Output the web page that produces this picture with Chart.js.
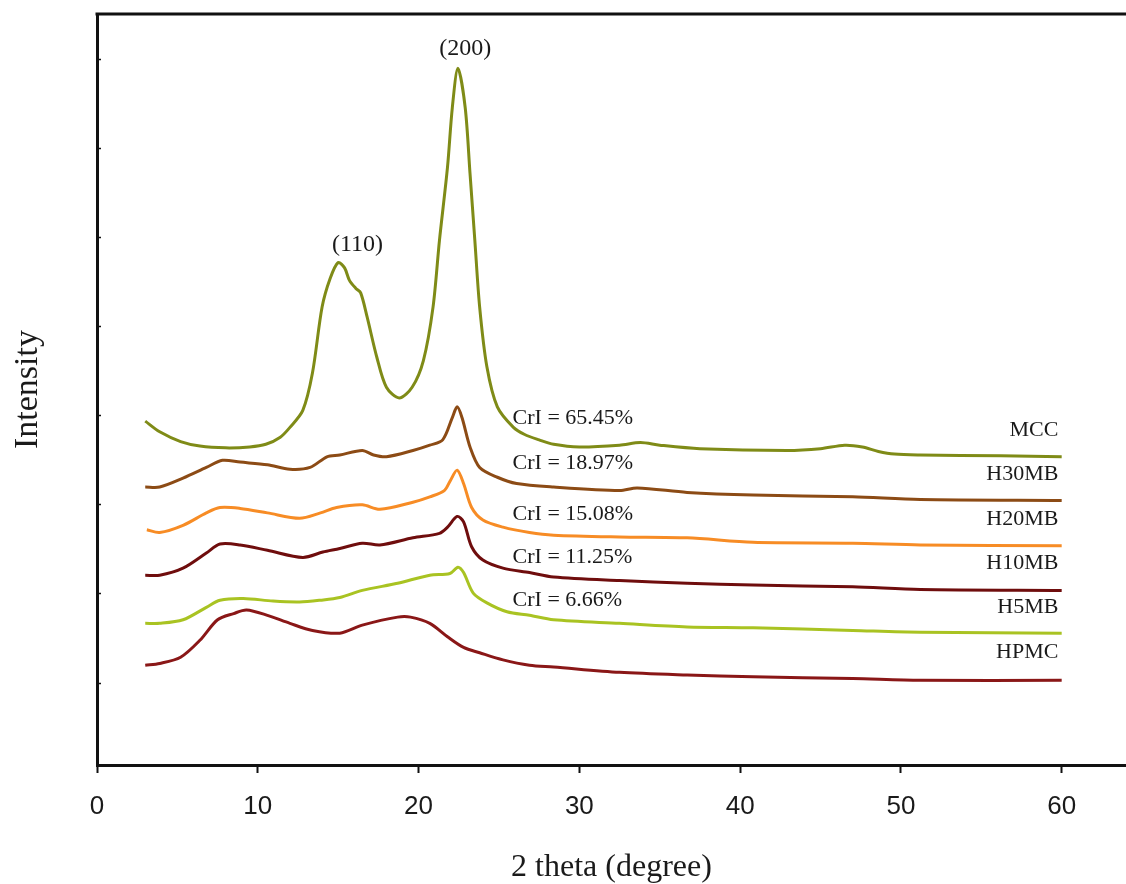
<!DOCTYPE html>
<html>
<head>
<meta charset="utf-8">
<script src="https://cdn.jsdelivr.net/npm/chart.js@4.4.1/dist/chart.umd.min.js"></script>
<style>
  html, body { margin: 0; padding: 0; background: #ffffff; }
  #c { display: block; }
</style>
</head>
<body>
<canvas id="c" width="1126" height="884"></canvas>
<script>
// ---------- data (2 theta in degrees, intensity in arbitrary units) ----------
const mccX   = [3.0, 3.9, 5.2, 6.4, 8.0, 9.5, 10.5, 11.4, 12.0, 12.8, 13.4, 14.0, 14.5, 15.0, 15.4, 15.7, 16.1, 16.4, 16.8, 17.4, 18.0, 18.8, 19.6, 20.3, 20.9, 21.3, 21.8, 22.1, 22.45, 22.9, 23.2, 23.5, 23.8, 24.25, 24.9, 25.9, 26.6, 27.5, 28.4, 30.0, 32.5, 33.8, 35.0, 37.5, 42.9, 45.0, 46.5, 47.6, 48.6, 49.6, 51.2, 56.2, 60.0];
const mccY   = [3.94, 3.82, 3.71, 3.66, 3.64, 3.65, 3.68, 3.76, 3.87, 4.06, 4.48, 5.22, 5.54, 5.72, 5.66, 5.52, 5.43, 5.38, 5.11, 4.66, 4.32, 4.20, 4.32, 4.62, 5.22, 5.97, 6.79, 7.46, 7.90, 7.46, 6.72, 5.97, 5.22, 4.55, 4.10, 3.87, 3.79, 3.73, 3.68, 3.65, 3.67, 3.70, 3.67, 3.63, 3.61, 3.63, 3.67, 3.65, 3.60, 3.57, 3.56, 3.55, 3.54];

const h30X   = [3.0, 3.9, 5.35, 6.8, 7.8, 8.9, 10.6, 12.0, 13.25, 14.3, 15.1, 16.5, 17.2, 18.0, 19.65, 20.7, 21.5, 22.1, 22.4, 22.7, 23.2, 23.8, 24.9, 26.1, 28.4, 32.5, 33.6, 36.7, 40.8, 47.0, 51.2, 60.0];
const h30Y   = [3.20, 3.20, 3.30, 3.42, 3.50, 3.48, 3.45, 3.40, 3.42, 3.54, 3.56, 3.61, 3.56, 3.54, 3.61, 3.67, 3.73, 3.98, 4.10, 3.98, 3.65, 3.42, 3.31, 3.24, 3.20, 3.16, 3.19, 3.14, 3.11, 3.09, 3.06, 3.05];

const h20X   = [3.1, 3.9, 5.35, 6.8, 7.65, 8.9, 10.6, 12.6, 13.9, 14.9, 16.5, 17.6, 19.65, 20.7, 21.6, 22.0, 22.4, 22.8, 23.3, 24.0, 25.25, 26.9, 28.4, 32.5, 36.7, 40.8, 47.0, 51.2, 60.0];
const h20Y   = [2.72, 2.69, 2.77, 2.91, 2.97, 2.96, 2.91, 2.85, 2.91, 2.97, 3.00, 2.95, 3.03, 3.09, 3.16, 3.28, 3.39, 3.24, 2.97, 2.83, 2.75, 2.69, 2.66, 2.64, 2.63, 2.58, 2.57, 2.55, 2.54];

const h10X   = [3.0, 3.9, 5.35, 6.8, 7.65, 8.9, 10.6, 12.8, 14.05, 15.1, 16.5, 17.6, 19.65, 21.3, 21.8, 22.4, 22.8, 23.3, 24.0, 25.25, 26.9, 28.4, 32.5, 36.7, 40.8, 47.0, 51.2, 60.0];
const h10Y   = [2.21, 2.21, 2.29, 2.46, 2.56, 2.55, 2.49, 2.41, 2.47, 2.51, 2.57, 2.55, 2.63, 2.68, 2.75, 2.87, 2.81, 2.53, 2.38, 2.29, 2.24, 2.19, 2.15, 2.12, 2.10, 2.08, 2.05, 2.04];

const h5X    = [3.0, 3.9, 5.35, 6.8, 7.65, 9.1, 10.95, 12.6, 13.9, 15.1, 16.5, 18.7, 20.7, 21.95, 22.45, 22.8, 23.4, 24.25, 25.5, 26.9, 28.4, 32.5, 36.7, 40.8, 47.0, 51.2, 60.0];
const h5Y    = [1.67, 1.67, 1.71, 1.85, 1.93, 1.95, 1.92, 1.91, 1.93, 1.96, 2.04, 2.12, 2.21, 2.23, 2.30, 2.24, 2.01, 1.90, 1.80, 1.76, 1.71, 1.67, 1.63, 1.62, 1.59, 1.57, 1.56];

const hpmcX  = [3.0, 3.9, 5.2, 6.4, 7.5, 8.5, 9.3, 10.6, 12.0, 13.4, 15.1, 16.5, 18.7, 19.5, 20.7, 21.8, 22.8, 23.8, 25.25, 26.9, 28.4, 32.5, 36.7, 40.8, 47.0, 51.2, 60.0];
const hpmcY  = [1.20, 1.22, 1.29, 1.48, 1.71, 1.78, 1.82, 1.76, 1.67, 1.59, 1.56, 1.65, 1.74, 1.74, 1.67, 1.52, 1.40, 1.34, 1.26, 1.20, 1.18, 1.12, 1.09, 1.07, 1.05, 1.03, 1.03];

const seriesNames  = ['MCC', 'H30MB', 'H20MB', 'H10MB', 'H5MB', 'HPMC'];
const seriesColors = ['#7f8b17', '#8c4b15', '#f78c25', '#6f0d0d', '#a9c322', '#8a1717'];

// tick values
const xTickValues = [0, 10, 20, 30, 40, 50, 60];
const yTickValues = [1, 2, 3, 4, 5, 6, 7, 8];

// annotation texts and their data positions
const peakLabels = ['(110)', '(200)'];
const peakLabelX = [16.2, 22.9];
const peakLabelY = [5.92, 8.12];

const crILabels = ['CrI = 65.45%', 'CrI = 18.97%', 'CrI = 15.08%', 'CrI = 11.25%', 'CrI = 6.66%'];
const crILabelX = 25.85;
const crILabelY = [3.97, 3.47, 2.90, 2.41, 1.93];

const nameLabelX = 59.8;
const nameLabelY = [3.84, 3.34, 2.84, 2.35, 1.85, 1.35];

// ---------- build ----------
const allX = [mccX, h30X, h20X, h10X, h5X, hpmcX];
const allY = [mccY, h30Y, h20Y, h10Y, h5Y, hpmcY];

const datasets = seriesNames.map((name, i) => ({
  label: name,
  data: allX[i].map((x, j) => ({ x: x, y: allY[i][j] })),
  borderColor: seriesColors[i],
  backgroundColor: seriesColors[i],
  borderWidth: 3,
  pointRadius: 0,
  fill: false,
  tension: 0.3
}));

const SERIF = '"Liberation Serif", "Times New Roman", serif';
const SANS = '"Liberation Sans", Arial, sans-serif';

const annotationPlugin = {
  id: 'annotations',
  afterDatasetsDraw(chart) {
    const ctx = chart.ctx;
    const xs = chart.scales.x, ys = chart.scales.y;
    ctx.save();
    ctx.fillStyle = '#1a1a1a';
    ctx.textBaseline = 'middle';
    // peak labels
    ctx.font = '24px ' + SERIF;
    ctx.textAlign = 'center';
    peakLabels.forEach((t, i) => {
      ctx.fillText(t, xs.getPixelForValue(peakLabelX[i]), ys.getPixelForValue(peakLabelY[i]));
    });
    // CrI labels
    ctx.font = '22px ' + SERIF;
    ctx.textAlign = 'left';
    crILabels.forEach((t, i) => {
      ctx.fillText(t, xs.getPixelForValue(crILabelX), ys.getPixelForValue(crILabelY[i]));
    });
    // sample names
    ctx.textAlign = 'right';
    seriesNames.forEach((t, i) => {
      ctx.fillText(t, xs.getPixelForValue(nameLabelX), ys.getPixelForValue(nameLabelY[i]));
    });
    ctx.restore();
  },
  afterDraw(chart) {
    const ctx = chart.ctx;
    const a = chart.chartArea;
    ctx.save();
    ctx.strokeStyle = '#111111';
    ctx.lineWidth = 3;
    ctx.beginPath();
    ctx.moveTo(a.left - 1.5, a.top);
    ctx.lineTo(a.right, a.top);
    ctx.stroke();
    ctx.restore();
  }
};

new Chart(document.getElementById('c'), {
  type: 'line',
  data: { datasets: datasets },
  options: {
    responsive: false,
    animation: false,
    events: [],
    layout: { padding: { top: 14, right: 0, left: 0, bottom: 0 } },
    plugins: { legend: { display: false }, tooltip: { enabled: false } },
    scales: {
      x: {
        type: 'linear',
        min: 0,
        max: 64,
        afterBuildTicks(scale) { scale.ticks = xTickValues.map(v => ({ value: v })); },
        afterFit(scale) { scale.height = 119; },
        grid: { display: true, drawOnChartArea: false, drawTicks: true, tickLength: 8, tickWidth: 2, tickColor: '#111111' },
        border: { display: true, color: '#111111', width: 3 },
        ticks: { font: { family: SANS, size: 26 }, color: '#1a1a1a', padding: 18, maxRotation: 0, autoSkip: false },
        title: { display: true, text: '2 theta (degree)', color: '#1a1a1a', font: { family: SERIF, size: 32, lineHeight: 1 }, padding: { top: 0, bottom: 0 } }
      },
      y: {
        type: 'linear',
        min: 0.08,
        max: 8.51,
        afterBuildTicks(scale) { scale.ticks = yTickValues.map(v => ({ value: v })); },
        afterFit(scale) { scale.width = 97; },
        grid: { display: true, drawOnChartArea: false, drawTicks: true, tickLength: -4, tickWidth: 1.5, tickColor: '#111111' },
        border: { display: true, color: '#111111', width: 3 },
        ticks: { display: false },
        title: { display: true, text: 'Intensity', color: '#1a1a1a', font: { family: SERIF, size: 34, lineHeight: 1 }, padding: { top: 11, bottom: 0 } }
      }
    }
  },
  plugins: [annotationPlugin]
});
</script>
</body>
</html>
